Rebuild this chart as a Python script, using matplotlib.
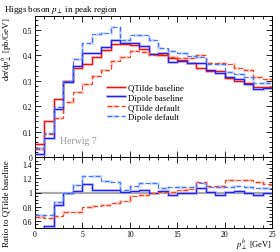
import numpy as np
import matplotlib
matplotlib.use("Agg")
import matplotlib.pyplot as plt
from matplotlib.lines import Line2D
from matplotlib.ticker import MultipleLocator, FuncFormatter

plt.rcParams['font.family'] = ['Liberation Serif', 'DejaVu Serif']
plt.rcParams['mathtext.fontset'] = 'stix'

bin_edges = np.arange(0, 26, 1)

qtilde_baseline = [0.05, 0.14, 0.23, 0.30, 0.35, 0.365, 0.395, 0.42, 0.445, 0.445,
                   0.44, 0.425, 0.405, 0.40, 0.39, 0.38, 0.37, 0.35, 0.34, 0.34,
                   0.312, 0.30, 0.29, 0.275, 0.275]
dipole_baseline = [0.012, 0.073, 0.19, 0.297, 0.357, 0.41, 0.41, 0.433, 0.46, 0.45,
                   0.449, 0.438, 0.405, 0.408, 0.375, 0.376, 0.37, 0.371, 0.343, 0.33,
                   0.315, 0.306, 0.287, 0.267, 0.272]
qtilde_default = [0.033, 0.09, 0.154, 0.216, 0.255, 0.288, 0.32, 0.344, 0.378, 0.392,
                  0.418, 0.412, 0.40, 0.404, 0.394, 0.391, 0.389, 0.40, 0.37, 0.37,
                  0.365, 0.351, 0.342, 0.314, 0.308]
dipole_default = [0.034, 0.095, 0.198, 0.30, 0.385, 0.45, 0.486, 0.49, 0.51, 0.46,
                  0.48, 0.48, 0.462, 0.428, 0.418, 0.41, 0.398, 0.395, 0.367, 0.367,
                  0.336, 0.327, 0.313, 0.292, 0.292]

series = [
    ("QTilde baseline", qtilde_baseline, "#ee1111", "#ff9999", "-"),
    ("Dipole baseline", dipole_baseline, "#2222ee", "#9999ff", "-"),
    ("QTilde default", qtilde_default, "#ee4422", "#ffb0a0", (0, (4, 2))),
    ("Dipole default", dipole_default, "#4477ff", "#b0c4ff", (0, (4, 2))),
]

W, H = 280, 253
fig = plt.figure(figsize=(W / 100, H / 100), dpi=100)
L, R = 35 / W, 272 / W
ax = fig.add_axes([L, 1 - 158 / H, R - L, (158 - 17) / H])
axr = fig.add_axes([L, 1 - 229 / H, R - L, (229 - 158) / H], sharex=ax)

ref = np.array(qtilde_baseline)
handles = []
for name, vals, col, light, ls in series:
    v = np.array(vals)
    ax.stairs(v, bin_edges, baseline=None, color=light, lw=1.9, ls=ls, alpha=0.75, zorder=2)
    ax.stairs(v, bin_edges, baseline=None, color=col, lw=0.85, ls=ls, zorder=3)
    if name != "QTilde baseline":
        axr.stairs(v / ref, bin_edges, baseline=None, color=light, lw=1.9, ls=ls, alpha=0.75, zorder=2)
        axr.stairs(v / ref, bin_edges, baseline=None, color=col, lw=0.85, ls=ls, zorder=3)
    handles.append((Line2D([], [], color=light, lw=1.9, ls=ls, alpha=0.75),
                    Line2D([], [], color=col, lw=0.85, ls=ls)))

axr.axhline(1.0, color="#aaaaaa", lw=1.5, zorder=1)

ax.set_xlim(0, 25)
ax.set_ylim(0, 0.555)
axr.set_ylim(0.5, 1.5)

fmt = FuncFormatter(lambda v, p: "%g" % round(v, 3))
for a in (ax, axr):
    a.tick_params(which="both", direction="in", top=True, right=True, labelsize=5.5, width=0.6, pad=2)
    a.tick_params(which="major", length=4)
    a.tick_params(which="minor", length=2)
    a.xaxis.set_major_locator(MultipleLocator(5))
    a.xaxis.set_minor_locator(MultipleLocator(1))
    a.yaxis.set_major_formatter(fmt)
    for s in a.spines.values():
        s.set_linewidth(0.7)
ax.yaxis.set_major_locator(MultipleLocator(0.1))
ax.yaxis.set_minor_locator(MultipleLocator(0.02))
axr.yaxis.set_major_locator(MultipleLocator(0.2))
axr.yaxis.set_minor_locator(MultipleLocator(0.05))
ax.tick_params(labelbottom=False)
axr.tick_params(axis="x", pad=1.5)
axr.xaxis.set_major_formatter(fmt)

ax.text(0.105, 0.064 / 0.555, "Herwig 7", transform=ax.transAxes, color="#999999",
        fontsize=7, ha="left", va="center")

ax.legend(handles, [s[0] for s in series], loc="upper left", bbox_to_anchor=(0.304, 0.52),
          frameon=False, fontsize=6.3, handlelength=2.0, handletextpad=0.35,
          labelspacing=0.18, borderpad=0, borderaxespad=0)

fig.text(4 / W, 1 - 12 / H, r"Higgs boson $p_\perp$ in peak region", fontsize=6.5,
         ha="left", va="baseline")
fig.text(7 / W, 1 - 18 / H, r"$\mathrm{d}\sigma/\mathrm{d}p_\perp^h$ [pb/GeV]", fontsize=6.3,
         rotation=90, ha="center", va="top")
fig.text(7 / W, 1 - 160 / H, "Ratio to QTilde baseline", fontsize=6.3,
         rotation=90, ha="center", va="top")
fig.text(R, 1 - 248 / H, r"$p_\perp^h$ [GeV]", fontsize=6.0, ha="right", va="baseline")

fig.savefig("out.png", dpi=100)
